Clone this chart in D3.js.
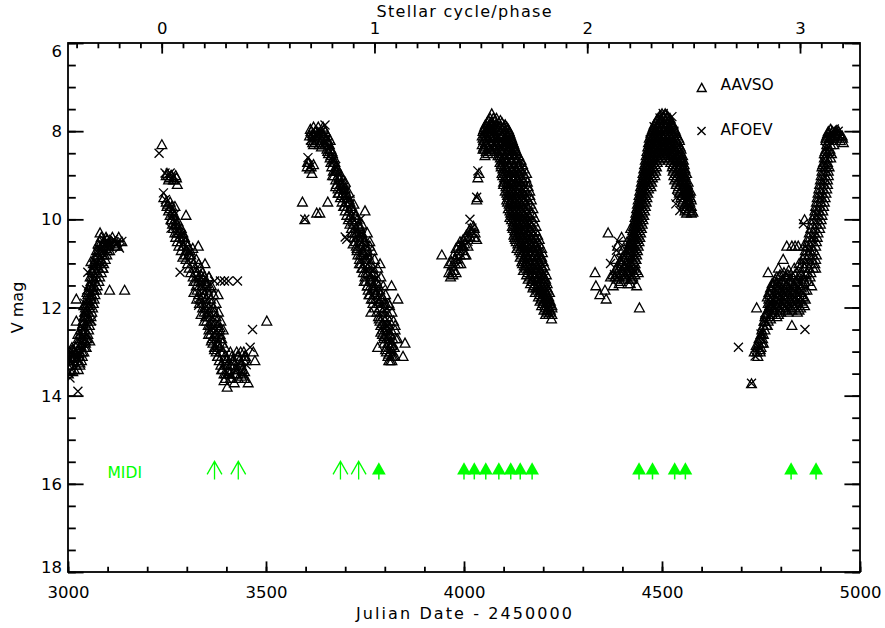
<!DOCTYPE html>
<html>
<head>
<meta charset="utf-8">
<script src="https://cdn.jsdelivr.net/npm/d3@7"></script>
<style>
  body { margin: 0; background: #fff; }
  svg { display: block; }
  text { font-family: "DejaVu Sans", sans-serif; }
</style>
</head>
<body>
<svg id="chart" width="885" height="628"></svg>
<script>
// ---- Axis ranges and ticks ----
const jdRange = [3000, 5000];          // Julian Date - 2450000
const magRange = [6, 18];               // V magnitude (bright at top)
const jdMajorTicks = [3000, 3500, 4000, 4500, 5000];
const magMajorTicks = [6, 8, 10, 12, 14, 16, 18];
const phaseMajorTicks = [0, 1, 2, 3];
const phaseZeroJD = 3236.6;             // epoch of phase 0
const period = 537.3;                   // pulsation period, days

// ---- AAVSO visual estimates [JD-2450000, V] ----
const aavsoCycle0 = [
  [3001,13.5],[3004,13.3],[3003,13.0],[3008,13.1],[3012,12.95],[3015,13.15],[3018,13.05],[3022,13.2],
  [3026,12.95],[3029,13.1],[3032,12.85],[3036,13.0],[3025,12.6],[3021,12.3],[3021,11.8],[3034,12.7],
  [3040,12.55],[3044,12.75],[3055,12.75],[3049,12.7],[3038,12.35],[3042,12.2],[3046,12.4],[3048,12.05],
  [3052,12.25],[3040,11.95],[3044,12.1],[3050,11.85],[3055,11.95],[3048,11.65],[3054,11.5],[3058,11.75],
  [3062,11.55],[3056,11.3],[3060,11.15],[3066,11.35],[3070,11.2],[3064,11.0],[3068,10.85],[3074,11.05],
  [3078,10.9],[3072,10.7],[3076,10.55],[3082,10.75],[3086,10.6],[3081,10.3],[3090,10.5],[3095,10.65],
  [3100,10.55],[3105,10.7],[3092,10.8],[3105,11.6],[3143,11.6],[3058,10.95],[3085,10.95],[3088,11.1],
  [3066,11.6],[3046,12.9],[3012,13.45],[3030,13.25],[3110,10.5],[3118,10.55],[3125,10.6],[3098,10.45]
];
const aavsoCycle1 = [
  [3237,8.3],[3250,8.95],[3256,9.05],[3262,9.0],[3268,9.1],[3274,9.05],[3276,9.2],[3242,9.5],
  [3252,9.65],[3258,9.75],[3265,9.85],[3270,9.7],[3298,9.9],[3262,10.0],[3270,10.1],[3278,10.05],
  [3275,10.3],[3283,10.25],[3290,10.4],[3296,10.5],[3329,10.6],[3315,10.65],[3300,10.7],[3306,10.8],
  [3290,10.85],[3346,11.0],[3321,11.2],[3318,11.4],[3335,11.25],[3342,11.35],[3350,11.45],[3356,11.3],
  [3360,11.55],[3379,11.7],[3318,11.65],[3325,11.8],[3332,11.9],[3340,11.75],[3345,12.0],[3336,12.15],
  [3344,12.3],[3352,12.2],[3358,12.4],[3365,12.1],[3372,12.35],[3384,12.45],[3355,12.6],[3362,12.75],
  [3370,12.65],[3378,12.85],[3385,12.7],[3370,12.95],[3378,13.1],[3386,13.0],[3394,13.2],[3402,13.15],
  [3410,13.3],[3418,13.2],[3428,13.1],[3436,13.25],[3444,13.2],[3390,13.4],[3398,13.5],[3406,13.45],
  [3414,13.6],[3422,13.5],[3430,13.4],[3438,13.55],[3446,13.45],[3402,13.8],[3394,13.65],[3420,13.7],
  [3455,13.7],[3468,13.0],[3472,13.2],[3502,12.3],[3436,13.0],[3448,13.1]
];
const aavsoCycle2 = [
  [3612,7.95],[3618,8.1],[3624,8.0],[3630,8.15],[3636,8.05],[3642,8.2],[3646,7.95],[3652,8.3],
  [3640,8.35],[3656,8.2],[3662,8.4],[3618,8.25],[3605,8.7],[3610,8.85],[3616,8.95],[3620,8.75],
  [3592,9.6],[3598,10.0],[3628,9.85],[3636,9.85],[3656,9.6],[3664,8.55],[3670,8.7],[3676,8.9],
  [3668,9.0],[3680,8.85],[3684,9.05],[3690,9.2],[3676,9.25],[3696,9.3],[3700,9.15],[3682,9.4],
  [3692,9.45],[3704,9.5],[3710,9.4],[3698,9.7],[3708,9.6],[3716,9.75],[3722,9.65],[3750,9.8],
  [3712,9.95],[3720,10.05],[3728,9.9],[3734,10.15],[3742,10.1],[3724,10.3],[3732,10.35],[3740,10.4],
  [3748,10.5],[3756,10.3],[3720,10.55],[3730,10.65],[3738,10.8],[3746,10.75],[3754,10.9],[3762,10.6],
  [3736,11.0],[3744,11.1],[3752,11.2],[3760,11.05],[3768,11.25],[3788,11.0],[3748,11.4],[3756,11.5],
  [3764,11.35],[3772,11.55],[3780,11.45],[3817,11.5],[3760,11.7],[3770,11.8],[3778,11.65],[3786,11.85],
  [3794,11.75],[3802,11.9],[3833,11.8],[3812,11.95],[3765,12.1],[3786,12.25],[3794,12.35],[3802,12.45],
  [3790,12.55],[3798,12.65],[3806,12.7],[3814,12.6],[3782,12.9],[3802,12.95],[3810,13.05],[3818,12.85],
  [3814,13.2],[3822,13.1],[3851,12.8],[3846,13.1],[3826,12.4],[3832,12.7]
];
const aavsoCycle3 = [
  [3944,10.8],[3962,11.2],[3966,11.3],[3970,11.05],[3974,11.15],[3968,10.95],[3978,10.9],[3982,10.8],
  [3986,11.0],[3980,10.65],[3988,10.7],[3994,10.6],[3990,10.5],[3998,10.45],[4002,10.55],[4006,10.35],
  [4010,10.4],[4014,10.25],[4018,10.3],[4024,10.15],[4028,10.3],[4032,10.45],[3998,10.7],[4005,10.8],
  [3972,11.25],[4032,9.55],[4035,9.05],[4038,8.95],[4034,9.5],
  [4070,7.6],[4048,8.4],[4053,8.55],[4050,8.2],[4056,8.0],[4060,7.9],[4064,8.1],[4068,7.8],
  [4072,7.95],[4076,8.15],[4080,7.85],[4084,8.0],[4088,8.25],[4092,7.9],[4096,8.1],[4100,8.3],
  [4104,7.86],[4108,8.2],[4112,8.4],[4116,8.25],[4120,8.45],[4126,8.35],[4058,8.3],[4066,8.45],
  [4078,8.4],[4091,8.7],[4086,8.55],[4129,8.43],[4221,12.25]
];
const aavsoCycle4 = [
  [4331,11.2],[4333,11.5],[4343,11.7],[4356,11.6],[4359,11.8],[4377,11.5],[4364,10.3],[4398,10.4],
  [4421,10.2],[4436,11.5],[4443,12.0],
  [4380,10.9],[4386,11.1],[4392,11.3],[4398,11.0],[4404,11.2],[4410,10.8],[4416,11.05],[4422,11.35],
  [4428,10.7],[4434,10.9],[4388,10.6],[4400,10.7],[4412,10.5],[4370,11.3],[4395,11.4],[4420,11.45],
  [4440,11.2],[4432,10.45],[4578,9.83]
];
const aavsoCycle5 = [
  [4726,13.72],[4733,13.0],[4738,12.85],[4742,13.1],[4745,12.7],[4748,12.95],[4752,12.6],[4756,12.8],
  [4739,12.0],[4758,12.3],[4762,12.15],[4766,12.4],[4770,12.0],[4774,12.25],[4778,11.95],[4768,11.2],
  [4794,11.1],[4806,10.9],[4815,10.6],[4828,10.6],[4836,10.6],[4844,10.6],[4858,10.6],[4828,12.4],
  [4796,11.3],[4808,11.2],[4820,11.15],[4834,11.1],[4846,11.0],[4856,11.75],[4866,11.6],
  [4926,7.95],[4940,7.98],[4955,8.1],[4958,8.25],[4874,11.3],[4860,10.0],[4878,11.5],[4888,11.1]
];

// Denser parts of each light curve, one row per magnitude level: [V, JD, JD, ...]
const aavsoRowsCycle0 = [
  [10.4, 3084, 3096, 3112, 3128], [10.6, 3078, 3090, 3102, 3118], [10.8, 3074, 3086, 3098],
  [11.0, 3068, 3078, 3090], [11.2, 3062, 3074, 3084], [11.4, 3058, 3068, 3078],
  [11.6, 3052, 3062, 3072], [11.8, 3048, 3058, 3066], [12.0, 3044, 3054, 3062],
  [12.2, 3040, 3050, 3058], [12.4, 3036, 3046, 3054], [12.6, 3030, 3040, 3050],
  [12.8, 3024, 3034, 3044], [13.0, 3006, 3016, 3028, 3040], [13.2, 3002, 3012, 3024, 3034],
  [13.4, 3004, 3016, 3026],
  [10.5, 3080, 3092, 3106, 3122, 3136], [10.7, 3076, 3088, 3100], [10.9, 3070, 3082, 3094],
  [11.1, 3066, 3076, 3088], [11.3, 3060, 3070, 3080], [11.5, 3056, 3064, 3074], [11.7, 3050, 3060, 3068],
  [11.9, 3046, 3056, 3064], [12.1, 3042, 3052, 3060], [12.3, 3038, 3048, 3056], [12.5, 3032, 3042, 3052],
  [12.7, 3026, 3036, 3046], [12.9, 3010, 3020, 3030, 3042], [13.1, 3004, 3014, 3026, 3036],
  [13.3, 3008, 3020, 3030]
];
const aavsoRowsCycle1 = [
  [9.0, 3248, 3260, 3272], [9.6, 3248, 3258], [9.8, 3254, 3264], [10.0, 3260, 3270],
  [10.2, 3266, 3276, 3286], [10.4, 3272, 3282, 3294], [10.6, 3280, 3290, 3302], [10.8, 3296, 3310],
  [11.0, 3302, 3316, 3330], [11.2, 3310, 3326, 3340], [11.4, 3322, 3336, 3348], [11.6, 3326, 3340, 3352],
  [11.8, 3334, 3348, 3360], [12.0, 3340, 3354, 3366], [12.2, 3348, 3360, 3374], [12.4, 3354, 3366, 3378],
  [12.6, 3360, 3372, 3384], [12.8, 3366, 3378, 3390], [13.0, 3374, 3392, 3410, 3426, 3444],
  [13.2, 3382, 3400, 3416, 3432, 3450], [13.4, 3388, 3404, 3422, 3440], [13.6, 3398, 3410, 3430, 3446],
  [9.1, 3254, 3266], [9.7, 3250, 3262], [9.9, 3258, 3268], [10.1, 3264, 3274], [10.3, 3270, 3280, 3290],
  [10.5, 3276, 3286, 3298], [10.7, 3286, 3298, 3308], [10.9, 3298, 3312, 3324], [11.1, 3306, 3320, 3334],
  [11.3, 3316, 3330, 3344, 3356], [11.5, 3324, 3338, 3350, 3362], [11.7, 3330, 3344, 3356, 3368],
  [11.9, 3338, 3350, 3362, 3374], [12.1, 3344, 3356, 3370, 3380], [12.3, 3350, 3364, 3376, 3386],
  [12.5, 3356, 3370, 3382, 3392], [12.7, 3364, 3376, 3388], [12.9, 3370, 3384, 3396],
  [13.1, 3378, 3396, 3414, 3430, 3446], [13.3, 3386, 3402, 3420, 3436], [13.5, 3394, 3408, 3426, 3442]
];
const aavsoRowsCycle2 = [
  [7.9, 3620, 3632, 3644], [8.0, 3614, 3626, 3638, 3650], [8.1, 3610, 3622, 3634, 3646, 3656],
  [8.2, 3616, 3628, 3640, 3652, 3662], [8.3, 3620, 3634, 3648, 3660], [8.4, 3654, 3664],
  [8.5, 3658, 3668], [8.6, 3662, 3672], [8.8, 3604, 3614, 3666, 3678], [9.0, 3672, 3682, 3690],
  [9.2, 3678, 3688, 3696], [9.4, 3684, 3694, 3702], [9.6, 3692, 3702, 3712], [9.8, 3700, 3710, 3720],
  [10.0, 3708, 3718, 3730], [10.2, 3716, 3726, 3738], [10.4, 3722, 3734, 3746], [10.6, 3728, 3740, 3752],
  [10.8, 3732, 3746, 3758], [11.0, 3740, 3752, 3764], [11.2, 3746, 3758, 3772], [11.4, 3752, 3766, 3778],
  [11.6, 3758, 3772, 3784], [11.8, 3766, 3780, 3792], [12.0, 3774, 3788, 3800], [12.2, 3784, 3796, 3806],
  [12.4, 3790, 3800, 3810], [12.6, 3794, 3804, 3814], [12.8, 3798, 3808, 3818], [13.0, 3804, 3814],
  [13.2, 3810, 3818],
  [8.05, 3618, 3632, 3644], [8.25, 3624, 3638, 3656], [8.45, 3656, 3666], [8.7, 3608, 3664, 3674],
  [8.9, 3670, 3680], [9.1, 3676, 3686, 3694], [9.3, 3682, 3690, 3700], [9.5, 3688, 3698, 3708],
  [9.7, 3696, 3706, 3716], [9.9, 3704, 3714, 3726], [10.1, 3712, 3722, 3734], [10.3, 3718, 3730, 3742],
  [10.5, 3726, 3738, 3750, 3762], [10.7, 3730, 3744, 3756, 3768], [10.9, 3736, 3750, 3762, 3774],
  [11.1, 3742, 3756, 3770, 3782], [11.3, 3750, 3764, 3778, 3790], [11.5, 3756, 3770, 3784, 3796],
  [11.7, 3762, 3776, 3790, 3802], [11.9, 3770, 3784, 3798, 3810], [12.1, 3780, 3794, 3806, 3818],
  [12.3, 3788, 3800, 3812, 3822], [12.5, 3794, 3804, 3816, 3826], [12.7, 3798, 3810, 3820, 3828],
  [12.9, 3804, 3814, 3824], [13.1, 3808, 3818, 3826]
];
const aavsoRowsCycle3 = [
  [10.2, 4016, 4026], [10.4, 4004, 4016, 4026], [10.6, 3986, 3998, 4010], [10.8, 3974, 3990, 4002],
  [11.0, 3962, 3978, 3992], [11.2, 3968, 3980],
  [7.7, 4066, 4074, 4082], [7.8, 4058, 4070, 4088, 4096], [7.9, 4052, 4062, 4078, 4100, 4108],
  [8.0, 4048, 4060, 4070, 4090, 4104, 4114], [8.1, 4046, 4056, 4068, 4080, 4094, 4110, 4118],
  [8.2, 4050, 4062, 4074, 4086, 4098, 4114, 4122], [8.3, 4046, 4056, 4070, 4082, 4094, 4106, 4118, 4126],
  [8.4, 4052, 4064, 4078, 4090, 4102, 4116, 4130], [8.5, 4060, 4088, 4096, 4108, 4122, 4134],
  [8.6, 4092, 4100, 4114, 4126], [8.7, 4098, 4108, 4120, 4132, 4140], [8.8, 4094, 4104, 4114, 4128, 4138],
  [8.9, 4100, 4112, 4122, 4134, 4144], [9.0, 4098, 4106, 4118, 4130, 4142], [9.1, 4104, 4112, 4126, 4136, 4148],
  [9.2, 4100, 4110, 4120, 4134, 4144], [9.3, 4110, 4118, 4130, 4140, 4152], [9.4, 4108, 4116, 4126, 4136, 4150],
  [9.5, 4112, 4124, 4134, 4146, 4158], [9.6, 4110, 4120, 4130, 4140, 4150], [9.7, 4118, 4126, 4138, 4148, 4160],
  [9.8, 4116, 4124, 4134, 4144, 4156], [9.9, 4122, 4132, 4142, 4152, 4164], [10.0, 4120, 4128, 4140, 4150, 4162],
  [10.1, 4126, 4136, 4146, 4156, 4168], [10.2, 4124, 4132, 4142, 4154, 4166], [10.3, 4130, 4140, 4150, 4160, 4172],
  [10.4, 4128, 4138, 4148, 4158, 4170, 4180], [10.5, 4132, 4144, 4154, 4164, 4176],
  [10.6, 4138, 4148, 4160, 4170, 4182], [10.7, 4140, 4152, 4162, 4174, 4186], [10.8, 4146, 4156, 4166, 4178, 4190],
  [10.9, 4150, 4160, 4172, 4182, 4194], [11.0, 4148, 4158, 4170, 4180, 4192], [11.1, 4156, 4166, 4176, 4188, 4198],
  [11.2, 4162, 4172, 4182, 4194], [11.3, 4166, 4178, 4188, 4200], [11.4, 4172, 4182, 4192, 4204],
  [11.5, 4176, 4186, 4196, 4206], [11.6, 4186, 4194, 4204, 4212], [11.7, 4192, 4200, 4210],
  [11.8, 4196, 4204, 4214], [11.9, 4200, 4208, 4218], [12.0, 4206, 4214, 4222], [12.1, 4210, 4218],
  [7.75, 4062, 4078, 4092], [7.85, 4054, 4066, 4084, 4104], [7.95, 4050, 4068, 4086, 4096, 4112],
  [8.05, 4052, 4064, 4076, 4100, 4116], [8.15, 4048, 4060, 4072, 4086, 4104, 4120],
  [8.25, 4054, 4066, 4080, 4092, 4110, 4124], [8.35, 4050, 4062, 4076, 4088, 4100, 4112, 4128],
  [8.45, 4056, 4070, 4084, 4098, 4110, 4124, 4132], [8.55, 4090, 4102, 4116, 4128, 4138],
  [8.65, 4096, 4106, 4120, 4134, 4144], [8.75, 4094, 4102, 4114, 4126, 4138, 4148],
  [8.85, 4098, 4108, 4120, 4132, 4142, 4152], [8.95, 4096, 4104, 4116, 4126, 4138, 4150, 4158],
  [9.05, 4102, 4114, 4124, 4136, 4146, 4156], [9.15, 4100, 4108, 4118, 4130, 4140, 4150, 4160],
  [9.25, 4106, 4114, 4126, 4138, 4150, 4162], [9.35, 4104, 4114, 4122, 4134, 4146, 4156, 4166],
  [9.45, 4110, 4120, 4130, 4142, 4154, 4166], [9.55, 4108, 4118, 4128, 4138, 4152, 4160, 4170],
  [9.65, 4114, 4124, 4134, 4144, 4156, 4168], [9.75, 4112, 4122, 4132, 4142, 4152, 4162, 4174],
  [9.85, 4118, 4128, 4138, 4148, 4160, 4172], [9.95, 4116, 4126, 4136, 4146, 4158, 4166, 4178],
  [10.05, 4124, 4134, 4144, 4154, 4164, 4176], [10.15, 4122, 4130, 4140, 4150, 4160, 4170, 4182],
  [10.25, 4128, 4138, 4146, 4156, 4168, 4180], [10.35, 4126, 4134, 4144, 4154, 4164, 4176, 4186],
  [10.45, 4130, 4140, 4150, 4160, 4172, 4182, 4190], [10.55, 4136, 4146, 4158, 4168, 4180, 4190],
  [10.65, 4134, 4144, 4154, 4166, 4176, 4188, 4196], [10.75, 4144, 4156, 4168, 4180, 4190, 4198],
  [10.85, 4142, 4152, 4162, 4174, 4186, 4196], [10.95, 4146, 4156, 4166, 4178, 4190, 4200],
  [11.05, 4152, 4162, 4174, 4184, 4196, 4204], [11.15, 4150, 4160, 4170, 4182, 4192, 4202],
  [11.25, 4158, 4168, 4178, 4190, 4200, 4208], [11.35, 4162, 4172, 4184, 4196, 4206],
  [11.45, 4168, 4178, 4188, 4200, 4210], [11.55, 4174, 4182, 4192, 4202, 4210],
  [11.65, 4180, 4190, 4200, 4208, 4216], [11.75, 4188, 4196, 4206, 4214], [11.85, 4192, 4200, 4210, 4218],
  [11.95, 4196, 4204, 4214, 4222], [12.05, 4202, 4210, 4218], [12.15, 4206, 4214, 4222]
];
const aavsoRowsCycle4 = [
  [7.6, 4500, 4508], [7.7, 4490, 4498, 4512, 4520], [7.8, 4484, 4494, 4504, 4514, 4524],
  [7.9, 4478, 4488, 4498, 4508, 4518, 4528], [8.0, 4474, 4484, 4494, 4504, 4514, 4524, 4534],
  [8.1, 4472, 4480, 4490, 4500, 4510, 4520, 4530, 4538], [8.2, 4470, 4478, 4488, 4498, 4508, 4518, 4528, 4536, 4544],
  [8.3, 4468, 4476, 4486, 4496, 4506, 4516, 4526, 4534, 4542],
  [8.4, 4466, 4474, 4484, 4494, 4504, 4514, 4524, 4532, 4540, 4548],
  [8.5, 4464, 4472, 4482, 4492, 4502, 4512, 4522, 4530, 4540, 4548],
  [8.6, 4462, 4470, 4480, 4490, 4500, 4510, 4520, 4530, 4538, 4550],
  [8.7, 4460, 4468, 4478, 4488, 4522, 4532, 4542, 4552], [8.8, 4458, 4466, 4476, 4486, 4526, 4536, 4546, 4554],
  [8.9, 4456, 4464, 4474, 4484, 4528, 4538, 4548, 4556], [9.0, 4454, 4462, 4472, 4482, 4530, 4540, 4550, 4558],
  [9.1, 4452, 4460, 4470, 4532, 4542, 4552, 4560], [9.2, 4450, 4458, 4468, 4536, 4546, 4556, 4564],
  [9.3, 4448, 4456, 4466, 4540, 4550, 4560, 4566], [9.4, 4446, 4454, 4464, 4544, 4554, 4562, 4570],
  [9.5, 4444, 4452, 4462, 4548, 4558, 4566, 4572], [9.6, 4442, 4450, 4460, 4552, 4562, 4570],
  [9.7, 4440, 4448, 4458, 4556, 4564, 4574], [9.8, 4438, 4446, 4456, 4558, 4568, 4576],
  [9.9, 4436, 4444, 4454], [10.0, 4434, 4442, 4452], [10.1, 4432, 4440, 4450], [10.2, 4430, 4438, 4448],
  [10.3, 4428, 4436, 4446], [10.4, 4426, 4434, 4444], [10.5, 4424, 4432, 4442], [10.6, 4420, 4430, 4440],
  [10.7, 4416, 4428, 4438], [10.8, 4412, 4426, 4436], [10.9, 4404, 4424, 4434], [11.0, 4398, 4420, 4432],
  [11.1, 4392, 4416, 4430], [11.2, 4386, 4412, 4428], [11.3, 4382, 4408, 4426],
  [7.65, 4494, 4504, 4514], [7.75, 4486, 4496, 4508, 4518], [7.85, 4480, 4490, 4500, 4510, 4520, 4528],
  [7.95, 4476, 4484, 4494, 4504, 4514, 4522, 4532], [8.05, 4472, 4480, 4490, 4498, 4508, 4518, 4528, 4536],
  [8.15, 4468, 4476, 4484, 4494, 4504, 4514, 4524, 4534, 4542],
  [8.25, 4466, 4474, 4482, 4492, 4502, 4512, 4522, 4532, 4540],
  [8.35, 4464, 4472, 4480, 4490, 4500, 4510, 4520, 4530, 4538, 4546],
  [8.45, 4462, 4470, 4478, 4488, 4498, 4508, 4518, 4528, 4536, 4546],
  [8.55, 4460, 4468, 4476, 4486, 4496, 4506, 4516, 4526, 4536, 4544, 4552],
  [8.65, 4458, 4466, 4474, 4484, 4494, 4516, 4526, 4536, 4546, 4554],
  [8.75, 4456, 4464, 4472, 4482, 4528, 4538, 4548, 4556], [8.85, 4454, 4462, 4470, 4480, 4530, 4540, 4550, 4558],
  [8.95, 4452, 4460, 4468, 4478, 4534, 4544, 4554, 4562], [9.05, 4450, 4458, 4466, 4476, 4536, 4546, 4556],
  [9.15, 4448, 4456, 4464, 4474, 4538, 4548, 4558, 4566], [9.25, 4446, 4454, 4462, 4472, 4542, 4552, 4562],
  [9.35, 4444, 4452, 4460, 4546, 4556, 4564, 4572], [9.45, 4442, 4450, 4458, 4550, 4560, 4568],
  [9.55, 4440, 4448, 4456, 4554, 4564, 4574], [9.65, 4438, 4446, 4454, 4558, 4566],
  [9.75, 4436, 4444, 4452, 4560, 4570], [9.85, 4434, 4442, 4450, 4562, 4574],
  [9.95, 4432, 4440, 4448], [10.05, 4430, 4438, 4446], [10.15, 4428, 4436, 4444], [10.25, 4426, 4434, 4442],
  [10.35, 4424, 4432, 4440], [10.45, 4422, 4430, 4438], [10.55, 4418, 4426, 4436], [10.65, 4414, 4424, 4434],
  [10.75, 4408, 4420, 4432], [10.85, 4400, 4416, 4430], [10.95, 4394, 4410, 4428], [11.05, 4388, 4406, 4424],
  [11.15, 4382, 4400, 4420, 4436], [11.25, 4376, 4396, 4418, 4432], [11.35, 4386, 4404, 4424], [11.45, 4392, 4414]
];
const aavsoRowsCycle5 = [
  [8.0, 4920, 4930, 4938, 4946], [8.1, 4916, 4926, 4934, 4944, 4952], [8.2, 4914, 4922, 4932, 4950],
  [8.4, 4914, 4924], [8.5, 4910, 4918, 4928], [8.7, 4908, 4918], [8.8, 4904, 4914, 4922],
  [9.0, 4902, 4912, 4920], [9.2, 4898, 4908, 4918], [9.4, 4894, 4904, 4914], [9.6, 4890, 4900, 4910],
  [9.8, 4886, 4896, 4906], [10.0, 4880, 4892, 4902], [10.2, 4876, 4886, 4898], [10.4, 4870, 4882, 4892],
  [10.6, 4866, 4876, 4888], [10.8, 4860, 4870, 4880, 4890], [11.0, 4854, 4864, 4876, 4886],
  [11.2, 4840, 4850, 4866, 4876], [11.3, 4790, 4812, 4830, 4856],
  [11.4, 4784, 4802, 4820, 4838, 4860, 4870], [11.5, 4780, 4796, 4814, 4832, 4848],
  [11.6, 4776, 4792, 4808, 4826, 4844, 4860], [11.7, 4772, 4788, 4804, 4820, 4838, 4852],
  [11.8, 4770, 4786, 4800, 4814, 4830, 4846, 4862], [11.9, 4768, 4780, 4796, 4810, 4828, 4840, 4856],
  [12.0, 4776, 4792, 4806, 4820, 4836, 4850], [12.1, 4764, 4784, 4800, 4818, 4842],
  [12.2, 4760, 4772, 4790], [12.4, 4756, 4764], [12.6, 4750, 4756], [12.8, 4744, 4752], [13.0, 4740, 4748],
  [8.05, 4918, 4928, 4936, 4948], [8.15, 4914, 4922, 4932, 4942, 4956], [8.3, 4916, 4926, 4934],
  [8.45, 4912, 4922], [8.6, 4910, 4918, 4926], [8.75, 4906, 4916], [8.9, 4904, 4912, 4920],
  [9.1, 4900, 4910, 4918], [9.3, 4896, 4906, 4916], [9.5, 4892, 4902, 4912], [9.7, 4888, 4898, 4908],
  [9.9, 4884, 4894, 4904], [10.1, 4878, 4890, 4900], [10.3, 4872, 4884, 4894], [10.5, 4868, 4878, 4890],
  [10.7, 4862, 4874, 4884], [10.9, 4856, 4866, 4878, 4888], [11.1, 4848, 4860, 4872, 4882],
  [11.25, 4798, 4818, 4836, 4852, 4864], [11.35, 4786, 4806, 4824, 4844, 4858],
  [11.45, 4778, 4790, 4808, 4826, 4842, 4856], [11.55, 4774, 4788, 4804, 4820, 4838, 4852],
  [11.65, 4770, 4784, 4798, 4814, 4830, 4848], [11.75, 4766, 4780, 4794, 4810, 4826, 4842, 4858],
  [11.85, 4774, 4790, 4806, 4822, 4836, 4850], [11.95, 4772, 4788, 4802, 4816, 4832, 4846, 4860],
  [12.05, 4768, 4782, 4798, 4812, 4828, 4846], [12.15, 4762, 4778, 4794], [12.3, 4758, 4768],
  [12.5, 4752, 4760], [12.7, 4748, 4754], [12.9, 4742, 4750]
];

// ---- AFOEV visual estimates [JD-2450000, V] ----
const afoevCycle0 = [
  [3025,13.9],[3002,13.15],[3010,13.25],[3030,13.05],[3035,12.8],[3038,12.45],[3042,11.9],[3050,11.2],
  [3047,11.6],[3058,11.7],[3066,11.05],[3075,10.75],[3090,10.45],[3100,10.5],[3108,10.55],[3115,10.45],
  [3122,10.55],[3130,10.65],[3136,10.5],[3060,12.3],[3005,13.6],[3018,12.95]
];
const afoevCycle1 = [
  [3230,8.5],[3245,8.95],[3250,9.0],[3258,8.95],[3264,9.05],[3241,9.4],[3246,9.55],[3255,9.7],
  [3268,9.9],[3260,10.2],[3272,10.15],[3285,10.35],[3292,10.55],[3305,10.75],[3283,11.2],[3370,11.4],
  [3385,11.4],[3395,11.4],[3405,11.4],[3428,11.4],[3328,11.35],[3336,11.5],[3330,11.95],[3348,12.1],
  [3360,12.5],[3375,12.9],[3395,13.3],[3410,13.55],[3425,13.35],[3440,13.5],[3466,12.5],[3460,12.9],
  [3450,13.3]
];
const afoevCycle2 = [
  [3649,7.86],[3640,8.0],[3628,8.05],[3620,8.15],[3612,8.2],[3660,8.35],[3606,8.6],[3612,8.8],
  [3598,10.0],[3668,8.65],[3676,8.8],[3686,9.1],[3694,9.35],[3702,9.35],[3712,9.55],[3700,10.4],
  [3704,10.45],[3738,10.0],[3742,10.3],[3752,10.6],[3758,10.8],[3770,11.15],[3778,11.35],[3790,11.6],
  [3798,12.05],[3806,12.4],[3810,12.55],[3816,12.8],[3822,13.0]
];
const afoevCycle3 = [
  [4015,10.0],[3985,10.9],[4000,10.6],[4010,10.5],[4020,10.2],[4032,9.5],[4035,8.9],[4055,8.1],
  [4065,8.0],[4075,7.95],[4085,8.1],[4095,8.2],[4105,8.1],[4115,8.5],[4110,8.9],[4120,9.2],
  [4130,9.65],[4140,10.0],[4150,10.35],[4160,10.8],[4171,11.4],[4180,11.1],[4195,11.6],[4210,12.0],
  [4145,10.6],[4125,9.0],[4135,9.4],[4155,10.1],[4170,10.6],[4185,11.3]
];
const afoevCycle4 = [
  [4503,7.6],[4525,7.67],[4495,7.7],[4480,7.9],[4510,7.95],[4530,8.0],[4470,8.2],[4540,8.5],
  [4500,8.3],[4537,9.5],[4545,9.8],[4555,9.4],[4550,9.05],[4460,9.0],[4450,9.5],[4440,10.0],
  [4430,10.6],[4385,10.7],[4395,10.9],[4405,11.0],[4380,11.25],[4410,11.3],[4420,11.1],[4390,10.5],
  [4370,11.0],[4415,10.65],[4535,9.65],[4560,9.6],[4490,8.1],[4515,8.4],[4520,8.2]
];
const afoevCycle5 = [
  [4693,12.9],[4726,13.72],[4735,13.1],[4745,12.9],[4750,12.6],[4760,12.3],[4770,12.05],[4780,11.8],
  [4790,11.45],[4805,11.6],[4815,11.25],[4825,11.5],[4835,11.75],[4845,11.4],[4857,10.1],[4861,12.5],
  [4860,11.0],[4870,10.7],[4880,10.4],[4890,9.9],[4900,9.5],[4905,9.1],[4910,8.7],[4915,8.4],
  [4920,8.2],[4930,8.05],[4945,8.0],[4935,7.95]
];

// ---- MIDI observation epochs (JD-2450000) ----
const midiOpen = [3370, 3430, 3688, 3734];
const midiFilled = [3785, 4000, 4026, 4055, 4088, 4118, 4142, 4172, 4442, 4476, 4532, 4559, 4826, 4889];
const midiMag = 15.7;

// expand [V, JD, JD, ...] rows into [JD, V] points
const fromRows = rows => rows.flatMap(([mag, ...jds]) => jds.map(jd => [jd, mag]));

const aavso = [].concat(
  aavsoCycle0, aavsoCycle1, aavsoCycle2, aavsoCycle3, aavsoCycle4, aavsoCycle5,
  fromRows(aavsoRowsCycle0), fromRows(aavsoRowsCycle1), fromRows(aavsoRowsCycle2),
  fromRows(aavsoRowsCycle3), fromRows(aavsoRowsCycle4), fromRows(aavsoRowsCycle5));
const afoev = [].concat(afoevCycle0, afoevCycle1, afoevCycle2, afoevCycle3, afoevCycle4, afoevCycle5);

// ---- Layout ----
const plot = { left: 68, right: 860, top: 43, bottom: 572 };
const svg = d3.select("#chart");

const x = d3.scaleLinear().domain(jdRange).range([plot.left, plot.right]);
const y = d3.scaleLinear().domain(magRange).range([plot.top, plot.bottom]);
const phase = d3.scaleLinear()
  .domain(jdRange.map(j => (j - phaseZeroJD) / period))
  .range([plot.left, plot.right]);

const GREEN = "#00ff00";
const tickStroke = 1.8;

function styleAxis(g, fontSize) {
  g.select(".domain").remove();
  g.selectAll(".tick line").attr("stroke", "#000").attr("stroke-width", tickStroke);
  g.selectAll(".tick text").attr("fill", "#000").attr("font-size", fontSize);
}

// minor tick values
const jdMinor = d3.range(3000, 5001, 100);
const magMinor = d3.range(6, 18.001, 0.5);
const phaseDom = phase.domain();
const phaseMinor = d3.range(-10, 40).map(i => i / 10).filter(v => v >= phaseDom[0] && v <= phaseDom[1]);

// bottom axis
svg.append("g").attr("transform", `translate(0,${plot.bottom})`)
  .call(d3.axisBottom(x).tickValues(jdMinor).tickSizeInner(-5.3).tickSizeOuter(0).tickFormat(""))
  .call(g => styleAxis(g, 16));
svg.append("g").attr("transform", `translate(0,${plot.bottom})`)
  .call(d3.axisBottom(x).tickValues(jdMajorTicks).tickSizeInner(-10.6).tickSizeOuter(0)
    .tickPadding(14).tickFormat(d3.format("d")))
  .call(g => styleAxis(g, 16.5));

// top axis (pulsation phase)
svg.append("g").attr("transform", `translate(0,${plot.top})`)
  .call(d3.axisTop(phase).tickValues(phaseMinor).tickSizeInner(-5.3).tickSizeOuter(0).tickFormat(""))
  .call(g => styleAxis(g, 16));
svg.append("g").attr("transform", `translate(0,${plot.top})`)
  .call(d3.axisTop(phase).tickValues(phaseMajorTicks).tickSizeInner(-10.6).tickSizeOuter(0)
    .tickPadding(9).tickFormat(d3.format("d")))
  .call(g => styleAxis(g, 16.5));

// left axis
svg.append("g").attr("transform", `translate(${plot.left},0)`)
  .call(d3.axisLeft(y).tickValues(magMinor).tickSizeInner(-7.8).tickSizeOuter(0).tickFormat(""))
  .call(g => styleAxis(g, 16));
svg.append("g").attr("transform", `translate(${plot.left},0)`)
  .call(d3.axisLeft(y).tickValues(magMajorTicks).tickSizeInner(-15.6).tickSizeOuter(0)
    .tickPadding(6).tickFormat(d3.format("d")))
  .call(g => styleAxis(g, 16.5))
  .call(g => g.selectAll(".tick text")
    .attr("dy", d => d === magRange[0] ? "0.82em" : d === magRange[1] ? "0em" : "0.34em"));

// right axis
svg.append("g").attr("transform", `translate(${plot.right},0)`)
  .call(d3.axisRight(y).tickValues(magMinor).tickSizeInner(-7.8).tickSizeOuter(0).tickFormat(""))
  .call(g => styleAxis(g, 16));
svg.append("g").attr("transform", `translate(${plot.right},0)`)
  .call(d3.axisRight(y).tickValues(magMajorTicks).tickSizeInner(-15.6).tickSizeOuter(0).tickFormat(""))
  .call(g => styleAxis(g, 16));

// frame
svg.append("rect")
  .attr("x", plot.left).attr("y", plot.top)
  .attr("width", plot.right - plot.left).attr("height", plot.bottom - plot.top)
  .attr("fill", "none").attr("stroke", "#000").attr("stroke-width", tickStroke);

// axis titles
svg.append("text").attr("x", (plot.left + plot.right) / 2).attr("y", 619)
  .attr("text-anchor", "middle").attr("font-size", 16)
  .attr("textLength", 216).attr("lengthAdjust", "spacing").text("Julian Date - 2450000");
svg.append("text").attr("x", (plot.left + plot.right) / 2).attr("y", 17)
  .attr("text-anchor", "middle").attr("font-size", 16)
  .attr("textLength", 175).attr("lengthAdjust", "spacing").text("Stellar cycle/phase");
svg.append("text")
  .attr("transform", `translate(23,${(plot.top + plot.bottom) / 2}) rotate(-90)`)
  .attr("text-anchor", "middle").attr("font-size", 16).text("V mag");

// data layer, clipped to the plot box
svg.append("clipPath").attr("id", "plotclip")
  .append("rect").attr("x", plot.left).attr("y", plot.top)
  .attr("width", plot.right - plot.left).attr("height", plot.bottom - plot.top);
const data = svg.append("g").attr("clip-path", "url(#plotclip)");

const triPath = "M0,-4.6L4.9,4.3L-4.9,4.3Z";
const crossPath = "M-4.5,-4.5L4.5,4.5M4.5,-4.5L-4.5,4.5";

data.append("g").selectAll("path").data(aavso).join("path")
  .attr("transform", d => `translate(${x(d[0])},${y(d[1])})`)
  .attr("d", triPath).attr("fill", "none").attr("stroke", "#000").attr("stroke-width", 1.3);

data.append("g").selectAll("path").data(afoev).join("path")
  .attr("transform", d => `translate(${x(d[0])},${y(d[1])})`)
  .attr("d", crossPath).attr("fill", "none").attr("stroke", "#000").attr("stroke-width", 1.3);

// MIDI epochs: open arrows and filled arrows
const midi = svg.append("g");
midi.selectAll("path.open").data(midiOpen).join("path").attr("class", "open")
  .attr("transform", d => `translate(${x(d)},${y(midiMag)})`)
  .attr("d", "M0,-9.3V8.8M-7.4,3.8L0,-9.3L7.4,3.8")
  .attr("fill", "none").attr("stroke", GREEN).attr("stroke-width", 1.3);
const filled = midi.selectAll("g.filled").data(midiFilled).join("g").attr("class", "filled")
  .attr("transform", d => `translate(${x(d)},${y(midiMag)})`);
filled.append("path").attr("d", "M0,-8.3L6.9,3.8L-6.9,3.8Z").attr("fill", GREEN);
filled.append("path").attr("d", "M0,3.5V8.8").attr("stroke", GREEN).attr("stroke-width", 1.5);

svg.append("text").attr("x", 107.5).attr("y", 477.5).attr("font-size", 15.5)
  .attr("fill", GREEN).text("MIDI");

// legend
const legend = svg.append("g");
legend.append("path").attr("transform", "translate(701.7,87.6) scale(0.9)")
  .attr("d", triPath).attr("fill", "none").attr("stroke", "#000").attr("stroke-width", 1.6);
legend.append("text").attr("x", 720.5).attr("y", 90).attr("font-size", 15.5).text("AAVSO");
legend.append("path").attr("transform", "translate(701.5,131) scale(0.9)")
  .attr("d", crossPath).attr("fill", "none").attr("stroke", "#000").attr("stroke-width", 1.6);
legend.append("text").attr("x", 720.5).attr("y", 135).attr("font-size", 15.5).text("AFOEV");
</script>
</body>
</html>
